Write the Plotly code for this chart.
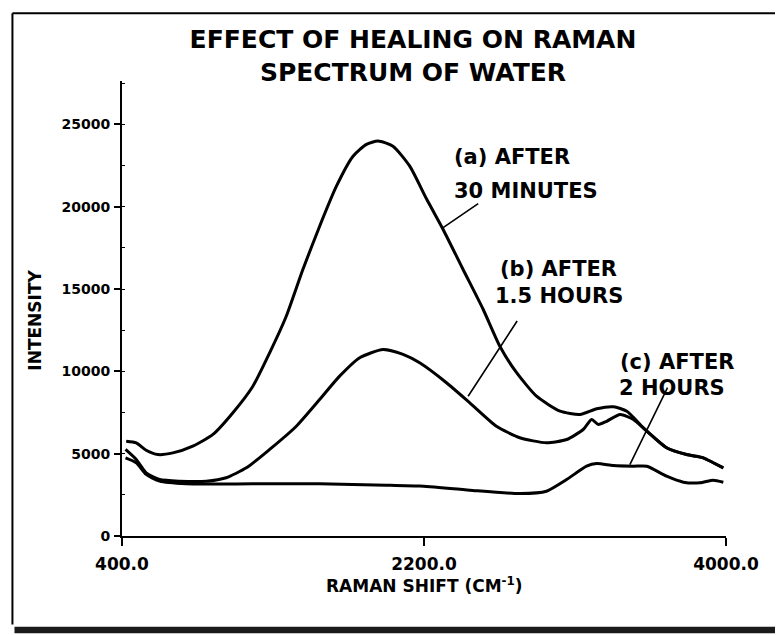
import plotly.graph_objects as go

# ---- data ----
a_x = [425, 485, 544, 614, 703, 822, 942, 1061, 1180, 1280, 1379, 1478, 1578, 1678, 1777, 1857,
       1926, 2015, 2115, 2214, 2314, 2433, 2553, 2652, 2752, 2871, 3011, 3130, 3230, 3329, 3409,
       3508, 3646, 3765, 3865, 3924, 3984]
a_y = [5760, 5660, 5210, 4950, 5050, 5460, 6170, 7490, 9100, 11130, 13350, 16190, 18820, 21250,
       23070, 23790, 23990, 23680, 22470, 20500, 18620, 16190, 13760, 11530, 9920, 8490, 7580,
       7380, 7730, 7850, 7580, 6570, 5360, 4950, 4750, 4450, 4140]

b_x = [421, 485, 544, 624, 743, 902, 1021, 1141, 1280, 1439, 1578, 1697, 1817, 1956, 2075, 2174,
       2334, 2473, 2632, 2771, 2930, 3050, 3149, 3199, 3239, 3289, 3369, 3448, 3528, 3646, 3765,
       3865, 3924, 3984]
b_y = [5260, 4650, 3840, 3430, 3330, 3330, 3540, 4140, 5260, 6670, 8290, 9710, 10830, 11330,
       11030, 10520, 9310, 8090, 6670, 5970, 5660, 5860, 6470, 7080, 6770, 6970, 7380, 7080, 6370,
       5360, 4950, 4750, 4450, 4140]

c_x = [421, 485, 544, 624, 783, 1180, 1578, 1976, 2174, 2473, 2771, 2930, 3050, 3169, 3229, 3329,
       3448, 3528, 3646, 3746, 3845, 3924, 3984]
c_y = [4750, 4450, 3740, 3330, 3170, 3170, 3170, 3090, 3030, 2780, 2580, 2720, 3430, 4240, 4400,
       4280, 4240, 4240, 3630, 3270, 3230, 3390, 3270]

x_tick_vals = [400, 2200, 4000]
x_tick_text = ["400.0", "2200.0", "4000.0"]
y_tick_vals = [0, 5000, 10000, 15000, 20000, 25000]

label_lines = ["(a) AFTER", "30 MINUTES", "(b) AFTER", "1.5 HOURS", "(c) AFTER", "2 HOURS"]
label_x = [2366, 2366, 2640, 2610, 3356, 3350]
label_y = [23030, 20950, 16250, 14570, 10600, 9020]

# pointer lines: (head x, head y, tail x, tail y)
pointers = [(2314, 18730, 2532, 20250),
            (2463, 8490, 2761, 13150),
            (3427, 4340, 3656, 9100)]

title_text = "EFFECT OF HEALING ON RAMAN<br>SPECTRUM OF WATER"
x_title = "RAMAN SHIFT (CM<sup>-1</sup>)"
y_title = "INTENSITY"

FONT = "DejaVu Sans"
LINE = dict(color="black", width=3, shape="spline", smoothing=0.6)

# the page shows the figure 8 px in from the top-left corner
W, H = 775, 627

fig = go.Figure()
for xs, ys, nm in [(a_x, a_y, "a"), (b_x, b_y, "b"), (c_x, c_y, "c")]:
    fig.add_trace(go.Scatter(x=xs, y=ys, mode="lines", line=LINE, name=nm,
                             showlegend=False, hoverinfo="skip"))

annotations = []
for t, x, y in zip(label_lines, label_x, label_y):
    annotations.append(dict(x=x, y=y, xref="x", yref="y", text=t, showarrow=False,
                            xanchor="left", yanchor="middle",
                            font=dict(family=FONT, size=21, color="black", weight="bold")))
for hx, hy, tx, ty in pointers:
    annotations.append(dict(x=hx, y=hy, ax=tx, ay=ty, xref="x", yref="y", axref="x", ayref="y",
                            text="", showarrow=True, arrowhead=0, arrowwidth=1.6,
                            arrowcolor="black", standoff=0, startstandoff=0))

annotations.append(dict(x=0.5, y=-0.108, xref="paper", yref="paper", text=x_title,
                        showarrow=False, xanchor="center", yanchor="middle",
                        font=dict(family=FONT, size=17, color="black", weight="bold")))
annotations.append(dict(x=-0.1442, y=0.4753, xref="paper", yref="paper", text=y_title,
                        showarrow=False, xanchor="center", yanchor="middle", textangle=-90,
                        font=dict(family=FONT, size=17, color="black", weight="bold")))

shapes = [
    # page border (scanned frame)
    dict(type="line", xref="paper", yref="paper", x0=-0.1814, x1=1.094, y0=1.149, y1=1.149,
         line=dict(color="black", width=2)),
    dict(type="line", xref="paper", yref="paper", x0=-0.1814, x1=-0.1814, y0=1.149, y1=-0.1943,
         line=dict(color="black", width=2)),
    dict(type="line", xref="paper", yref="paper", x0=1.091, x1=1.091, y0=-0.10, y1=-0.1943,
         line=dict(color="#777", width=1)),
    dict(type="rect", xref="paper", yref="paper", x0=-0.178, x1=1.10, y0=-0.1995, y1=-0.2135,
         line=dict(width=0), fillcolor="#1a1a1a"),
]

fig.update_layout(
    width=W, height=H,
    margin=dict(l=114, r=57, t=73, b=99),
    paper_bgcolor="white", plot_bgcolor="white",
    title=dict(text=title_text, x=405 / W, xanchor="center", xref="container",
               y=1 - 40 / H, yanchor="top", yref="container",
               font=dict(family=FONT, size=25, color="black", weight="bold")),
    xaxis=dict(range=[400, 4000], tickvals=x_tick_vals, ticktext=x_tick_text,
               showgrid=False, zeroline=False, showline=True, linecolor="black", linewidth=2,
               ticks="outside", ticklen=8, tickwidth=1.5, tickcolor="black",
               ticklabelstandoff=4,
               tickfont=dict(family=FONT, size=17, color="black", weight="bold")),
    yaxis=dict(range=[0, 27640], tickvals=y_tick_vals, tickformat="d",
               showgrid=False, zeroline=False, showline=True, linecolor="black", linewidth=2,
               ticks="outside", ticklen=6, tickwidth=1.5, tickcolor="black",
               ticklabelstandoff=1,
               minor=dict(dtick=2500, tick0=2500, ticks="inside", ticklen=3,
                          tickcolor="black", tickwidth=1),
               tickfont=dict(family=FONT, size=14, color="black", weight="bold")),
    annotations=annotations,
    shapes=shapes,
)

fig.write_html("out.html")
